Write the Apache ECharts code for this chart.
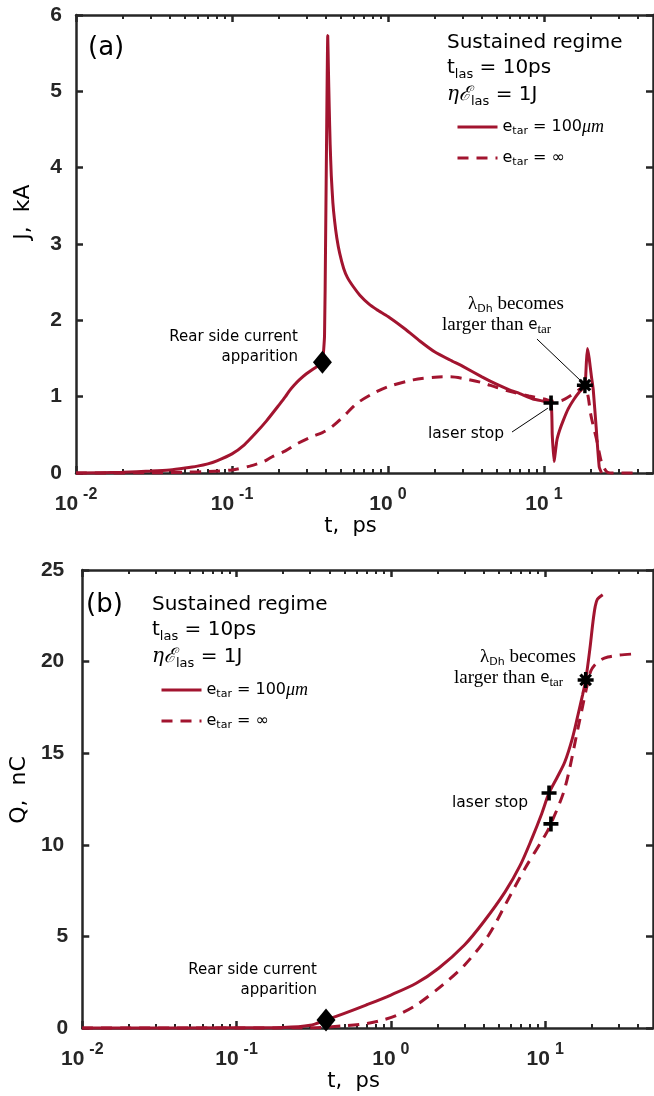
<!DOCTYPE html>
<html><head><meta charset="utf-8">
<script src="https://cdn.jsdelivr.net/npm/echarts@6/dist/echarts.min.js"></script>
<style>html,body{margin:0;padding:0;background:#fff}#c{width:654px;height:1096px}</style>
</head><body><div id="c"></div>
<script>
// ---------- data ----------
const xDecades = [0.01, 0.1, 1, 10];
const xMinor = [0.02,0.03,0.04,0.05,0.06,0.07,0.08,0.09,0.2,0.3,0.4,0.5,0.6,0.7,0.8,0.9,2,3,4,5,6,7,8,9,20,30,40];

const tJSolid = [0.01,0.02,0.03,0.04,0.05,0.06,0.07,0.08,0.1,0.12,0.14,0.166,0.2,0.22,0.234,0.25,0.27,0.3,0.33,0.36,0.38,0.392,0.398,0.405,0.411,0.415,0.42,0.426,0.433,0.443,0.455,0.47,0.49,0.52,0.55,0.6,0.66,0.75,0.85,1.0,1.3,1.6,2.0,2.5,3.0,4.0,5.0,6.0,7.0,8.5,10,11.1,11.3,11.6,12.1,12.6,13.3,14.3,15.5,17,18.3,18.7,19.0,19.5,20.1,20.7,21.6,22.6,23.4];
const jSolid  = [0,0.01,0.025,0.04,0.065,0.09,0.12,0.16,0.25,0.37,0.51,0.68,0.89,1.0,1.08,1.15,1.22,1.30,1.36,1.41,1.45,1.8,3.0,4.6,5.73,5.3,4.8,4.3,3.9,3.55,3.3,3.08,2.88,2.68,2.56,2.44,2.33,2.22,2.14,2.05,1.88,1.73,1.585,1.48,1.40,1.26,1.16,1.09,1.04,0.97,0.94,0.917,0.5,0.15,0.43,0.56,0.69,0.84,0.96,1.07,1.14,1.45,1.63,1.5,1.28,1.09,0.6,0.08,0];

const tJDash = [0.01,0.03,0.05,0.07,0.1,0.13,0.16,0.18,0.22,0.26,0.32,0.38,0.42,0.47,0.53,0.63,0.8,1.0,1.45,2.0,2.5,3.0,3.9,5.0,6.3,8,10,11.5,13,15,17,18.3,19.2,19.9,20.8,21.8,22.7,23.6,25.5,28,37.7];
const jDash  = [0,0.003,0.01,0.02,0.04,0.09,0.15,0.21,0.29,0.38,0.47,0.53,0.58,0.66,0.76,0.91,1.04,1.13,1.22,1.255,1.26,1.24,1.19,1.12,1.06,1.01,0.97,0.94,0.95,1.02,1.1,1.15,1.0,0.78,0.6,0.43,0.25,0.12,0.01,0,0];

const tQSolid = [0.01,0.1,0.2,0.3,0.38,0.5,0.69,1.0,1.46,2.04,3.0,4.0,5.5,6.9,8.2,9.5,10.6,12,13.4,15,16.3,17.5,18.3,19.5,20.4,21.1,21.8,23.6];
const qSolid  = [0,0.01,0.03,0.15,0.44,0.8,1.25,1.8,2.44,3.26,4.53,5.8,7.43,8.89,10.34,11.7,12.83,13.7,14.52,15.8,17.07,18.2,18.97,20.7,22.15,23.0,23.4,23.65];

const tQDash = [0.01,0.3,0.51,0.7,0.89,1.1,1.46,2.16,3.0,4.3,5.65,7.4,10,10.9,13.4,16.3,18.9,19.8,20.9,23,25.5,30,37.7];
const qDash  = [0,0.01,0.13,0.25,0.44,0.7,1.25,2.34,3.43,5.07,6.89,8.71,10.52,11.14,13.07,16.34,18.88,19.5,19.8,20.1,20.25,20.35,20.42];

// markers [t, value]
const jDiamond = [[0.38, 1.45]];
const jPlus = [[11.1, 0.917]];
const jStar = [[18.3, 1.15]];
const qDiamond = [[0.38, 0.44]];
const qPlus = [[10.6, 12.83], [10.9, 11.14]];
const qStar = [[18.3, 19.0]];
// annotation arrows [[t0,v0],[t1,v1]]
const jLaserArrow = [[6.24, 0.537], [10.6, 0.85]];
const jLambdaArrow = [[9.02, 1.755], [17.8, 1.18]];

const yTicksJ = [0, 6, 1];
const yTicksQ = [0, 25, 5];
const names = ['e_tar = 100um', 'e_tar = inf'];

// ---------- style ----------
const RED = '#A2142F';
const AX = '#262626';
const SANS = 'DejaVu Sans';
const BOLD = 'Liberation Sans';
const PLUS = 'path://M-1.7,-7h3.4v14h-3.4z M-7,-1.7h14v3.4h-14z';
const STAR = 'path://M-1.5,-7h3v14h-3z M-7,-1.5h14v3h-14z M3.6,5.6L-5.6,-3.6L-3.6,-5.6L5.6,3.6Z M-3.6,5.6L-5.6,3.6L3.6,-5.6L5.6,-3.6Z';

const zip = (a, b) => a.map((t, i) => [t, b[i]]);

function xAxes(g) {
  const base = {gridIndex: g, type: 'log', logBase: 10, min: 0.01, max: 50, splitLine: {show: false}};
  const line = {show: true, onZero: false, lineStyle: {color: AX, width: 2.5}};
  return [
    Object.assign({}, base, {
      position: 'bottom', axisLine: line,
      axisTick: {show: true, inside: true, length: 7, lineStyle: {color: AX, width: 2.5}, customValues: xDecades},
      axisLabel: {show: true, margin: 14, customValues: xDecades, color: AX,
        formatter: v => '{b|10}{e|' + Math.round(Math.log10(v)) + '}',
        rich: {
          b: {fontFamily: BOLD, fontWeight: 'bold', fontSize: 21, color: AX, lineHeight: 28, verticalAlign: 'bottom'},
          e: {fontFamily: BOLD, fontWeight: 'bold', fontSize: 16, color: AX, lineHeight: 16, verticalAlign: 'top', padding: [0, 0, 0, 5]}
        }},
      name: 't,  ps', nameLocation: 'middle', nameGap: 40,
      nameTextStyle: {fontFamily: SANS, fontSize: 21, color: '#000', padding: [0, 28, 0, 0]}
    }),
    Object.assign({}, base, {
      position: 'bottom', axisLine: {show: false, onZero: false},
      axisTick: {show: true, inside: true, length: 4, lineStyle: {color: AX, width: 2}, customValues: xMinor},
      axisLabel: {show: false}
    }),
    Object.assign({}, base, {
      position: 'top', axisLine: line,
      axisTick: {show: true, inside: true, length: 7, lineStyle: {color: AX, width: 2.5}, customValues: xDecades},
      axisLabel: {show: false}
    }),
    Object.assign({}, base, {
      position: 'top', axisLine: {show: false, onZero: false},
      axisTick: {show: true, inside: true, length: 4, lineStyle: {color: AX, width: 2}, customValues: xMinor},
      axisLabel: {show: false}
    })
  ];
}
function yAxes(g, ticks, name, shift) {
  const base = {gridIndex: g, type: 'value', min: ticks[0], max: ticks[1], interval: ticks[2], splitLine: {show: false}};
  const line = {show: true, onZero: false, lineStyle: {color: AX, width: 2.5}};
  return [
    Object.assign({}, base, {
      position: 'left', axisLine: line,
      axisTick: {show: true, inside: true, length: 7, lineStyle: {color: AX, width: 2.5}},
      axisLabel: {show: true, margin: 14, color: AX,
        formatter: v => v >= 10 ? '{d|' + v + '}' : '{s|' + v + '}',
        rich: {
          d: {fontFamily: BOLD, fontWeight: 'bold', fontSize: 21, color: AX, padding: [0, 4, 0, 0]},
          s: {fontFamily: BOLD, fontWeight: 'bold', fontSize: 21, color: AX}
        }},
      name: name, nameLocation: 'middle', nameGap: 42,
      nameTextStyle: {fontFamily: SANS, fontSize: 22, color: '#000', padding: [0, 0, 0, shift]}
    }),
    Object.assign({}, base, {
      position: 'right', axisLine: line,
      axisTick: {show: true, inside: true, length: 7, lineStyle: {color: AX, width: 2.5}},
      axisLabel: {show: false}
    })
  ];
}

function lineSeries(name, xi, yi, t, v, dashed, smooth) {
  return {type: 'line', name: name, xAxisIndex: xi, yAxisIndex: yi, data: zip(t, v),
    symbol: 'none', showSymbol: false, clip: false, z: 3, smooth: smooth,
    lineStyle: {color: RED, width: 3, type: dashed ? [11, 8] : 'solid'},
    itemStyle: {color: RED}};
}
function markerSeries(xi, yi, data, symbol, size) {
  return {type: 'scatter', xAxisIndex: xi, yAxisIndex: yi, data: data, symbol: symbol, symbolSize: size,
    itemStyle: {color: '#000', opacity: 1}, z: 6, silent: true};
}

const legendRich = {
  n: {fontFamily: SANS, fontSize: 16, color: '#000', lineHeight: 20, verticalAlign: 'middle'},
  s: {fontFamily: SANS, fontSize: 11, color: '#000', lineHeight: 11, verticalAlign: 'bottom'},
  i: {fontFamily: 'Liberation Serif', fontStyle: 'italic', fontSize: 18, color: '#000', lineHeight: 20, verticalAlign: 'middle'}
};
function legendFmt(n) {
  return n === names[0] ? '{n|e}{s|tar}{n| = 100}{i|\u03BCm}' : '{n|e}{s|tar}{n| = \u221E}';
}
function legendAt(left, top) {
  return {left: left, top: top, orient: 'vertical', itemWidth: 40, itemHeight: 20, itemGap: 13,
    data: names, formatter: legendFmt, textStyle: {rich: legendRich},
    lineStyle: {width: 3}, itemStyle: {opacity: 0}, selectedMode: false};
}

const infoRich = {
  n: {fontFamily: SANS, fontSize: 20, color: '#000', lineHeight: 26, verticalAlign: 'middle'},
  s: {fontFamily: SANS, fontSize: 13, color: '#000', lineHeight: 13, verticalAlign: 'bottom'},
  m: {fontFamily: 'DejaVu Serif', fontStyle: 'italic', fontSize: 20, color: '#000', lineHeight: 26, verticalAlign: 'middle'}
};
function infoBlock(x, y) {
  return [
    {type: 'text', x: x, y: y, style: {text: 'Sustained regime', font: '20px "DejaVu Sans"', fill: '#000', verticalAlign: 'middle'}},
    {type: 'text', x: x, y: y + 25, style: {text: '{n|t}{s|las}{n| = 10ps}', rich: infoRich, verticalAlign: 'middle'}},
    {type: 'text', x: x, y: y + 52, style: {text: '{m|\u03B7\u2130}{s|las}{n| = 1J}', rich: infoRich, verticalAlign: 'middle'}}
  ];
}
const serifRich = {
  r: {fontFamily: 'Liberation Serif', fontSize: 19, color: '#000', lineHeight: 22, verticalAlign: 'middle'},
  f: {fontFamily: SANS, fontSize: 15, color: '#000', lineHeight: 22, verticalAlign: 'middle'},
  s: {fontFamily: SANS, fontSize: 11, color: '#000', lineHeight: 11, verticalAlign: 'bottom'},
  t: {fontFamily: 'Liberation Serif', fontSize: 13, color: '#000', lineHeight: 12, verticalAlign: 'bottom'}
};
function lambdaText(x1, y1, x2, y2) {
  return [
    {type: 'text', x: x1, y: y1, style: {text: '{r|\u03BB}{s|Dh}{r| becomes}', rich: serifRich, verticalAlign: 'middle'}},
    {type: 'text', x: x2, y: y2, style: {text: '{r|larger than }{f|e}{t|tar}', rich: serifRich, verticalAlign: 'middle'}}
  ];
}
function rearText(xr, y) {
  return {type: 'text', x: xr, y: y, style: {text: 'Rear side current\napparition', font: '15px "DejaVu Sans"', fill: '#000', align: 'right', verticalAlign: 'middle', lineHeight: 20}};
}
function laserText(x, y) {
  return {type: 'text', x: x, y: y, style: {text: 'laser stop', font: '15.5px "DejaVu Sans"', fill: '#000', verticalAlign: 'middle'}};
}

const arrowLine = (xi, yi, pts) => ({
  type: 'line', xAxisIndex: xi, yAxisIndex: yi, data: pts, symbol: 'none', clip: false, z: 5, silent: true,
  lineStyle: {color: '#000', width: 1}
});

const option = {
  backgroundColor: '#fff',
  animation: false,
  grid: [
    {left: 76, top: 15, width: 577, height: 458},
    {left: 76, top: 570, width: 577, height: 458}
  ],
  xAxis: [].concat(xAxes(0), xAxes(1)),
  yAxis: [].concat(yAxes(0, yTicksJ, 'J,  kA', 64), yAxes(1, yTicksQ, 'Q,  nC', 18)),
  legend: [legendAt(451, 113), legendAt(155, 676)],
  series: [
    lineSeries(names[0], 0, 0, tJSolid, jSolid, false, 0.15),
    lineSeries(names[1], 0, 0, tJDash, jDash, true, 0.3),
    lineSeries(names[0], 4, 2, tQSolid, qSolid, false, 0.3),
    lineSeries(names[1], 4, 2, tQDash, qDash, true, 0.3),
    arrowLine(0, 0, jLaserArrow),
    arrowLine(0, 0, jLambdaArrow),
    markerSeries(0, 0, jDiamond, 'diamond', [19, 23]),
    markerSeries(0, 0, jPlus, PLUS, 15),
    markerSeries(0, 0, jStar, STAR, 16),
    markerSeries(4, 2, qDiamond, 'diamond', [19, 23]),
    markerSeries(4, 2, qPlus, PLUS, 15),
    markerSeries(4, 2, qStar, STAR, 16)
  ],
  graphic: [].concat(
    [{type: 'text', x: 88, y: 48, style: {text: '(a)', font: '26px "DejaVu Sans"', fill: '#000', verticalAlign: 'middle'}}],
    infoBlock(447, 43),
    [rearText(298, 347), laserText(428, 434)],
    lambdaText(468, 304, 442, 325),
    [{type: 'text', x: 86, y: 605, style: {text: '(b)', font: '26px "DejaVu Sans"', fill: '#000', verticalAlign: 'middle'}}],
    infoBlock(152, 605),
    [rearText(317, 980), laserText(452, 803)],
    lambdaText(480, 657, 454, 678)
  )
};
const chart = echarts.init(document.getElementById('c'), null, {renderer: 'canvas'});
chart.setOption(option);
</script>
</body></html>
